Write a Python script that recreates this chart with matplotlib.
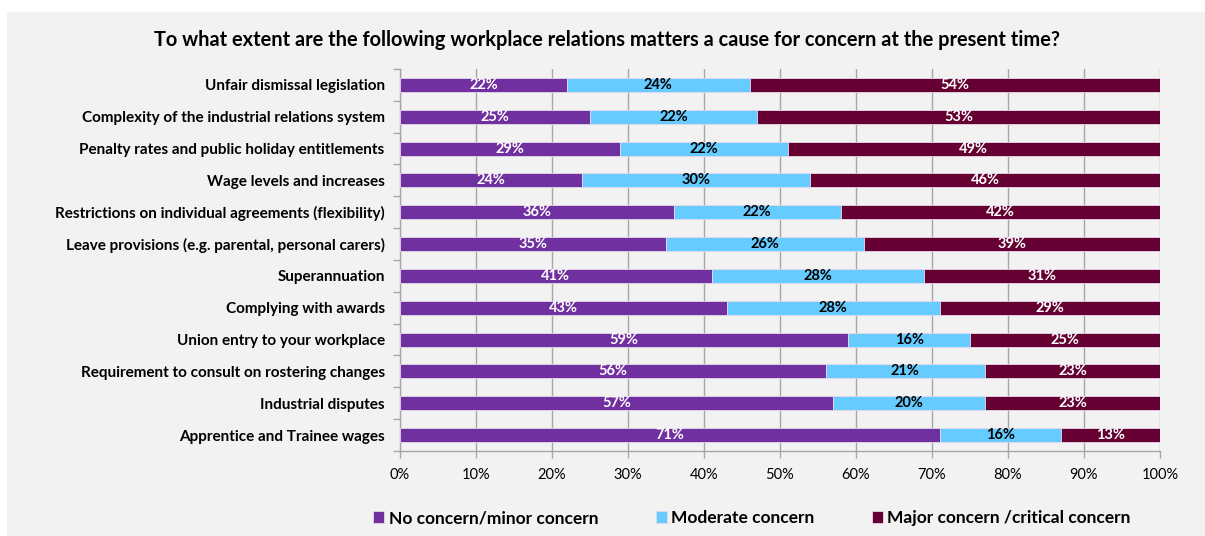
import matplotlib.pyplot as plt
import numpy as np
from matplotlib.patches import Rectangle

# Survey items, top to bottom
items = [
    "Unfair dismissal legislation",
    "Complexity of the industrial relations system",
    "Penalty rates and public holiday entitlements",
    "Wage levels and increases",
    "Restrictions on individual agreements (flexibility)",
    "Leave provisions (e.g. parental, personal carers)",
    "Superannuation",
    "Complying with awards",
    "Union entry to your workplace",
    "Requirement to consult on rostering changes",
    "Industrial disputes",
    "Apprentice and Trainee wages",
]
no_concern = [22, 25, 29, 24, 36, 35, 41, 43, 59, 56, 57, 71]
moderate = [24, 22, 22, 30, 22, 26, 28, 28, 16, 21, 20, 16]
major = [54, 53, 49, 46, 42, 39, 31, 29, 25, 23, 23, 13]

series_names = ["No concern/minor concern", "Moderate concern",
                "Major concern /critical concern"]
colors = ["#7030A0", "#66CCFF", "#660033"]
text_colors = ["white", "black", "white"]

plt.rcParams['font.family'] = ['Lato', 'DejaVu Sans']

fig = plt.figure(figsize=(12.05, 5.36), dpi=100)
fig.patch.set_facecolor("white")
# grey chart panel
fig.patches.append(Rectangle((7 / 1205, 0), 1 - 7 / 1205, 1 - 12 / 536,
                             transform=fig.transFigure, facecolor="#F2F2F2",
                             edgecolor="none", zorder=-10))

ax = fig.add_axes([400 / 1205, 1 - 451 / 536, 760 / 1205, 382 / 536])
ax.set_facecolor("none")

y = np.arange(len(items))
left = np.zeros(len(items))
for vals, name, col, tcol in zip([no_concern, moderate, major], series_names,
                                 colors, text_colors):
    vals = np.array(vals, dtype=float)
    ax.barh(y, vals, left=left, height=0.44, color=col, label=name,
            edgecolor="#E6D9EA", linewidth=0.6, zorder=3)
    for yy, l, v in zip(y, left, vals):
        ax.text(l + v / 2, yy, f"{int(v)}%", ha="center", va="center",
                color=tcol, fontsize=10.5, fontweight="bold", zorder=4)
    left += vals

ax.set_xlim(0, 100)
ax.set_ylim(len(items) - 0.5, -0.5)
ax.set_xticks(np.arange(0, 101, 10))
ax.set_xticklabels([f"{v}%" for v in range(0, 101, 10)], fontsize=10.5)
ax.set_yticks(y)
ax.set_yticklabels(items, fontsize=11, fontweight="bold")
ax.set_yticks(np.arange(-0.5, len(items), 1), minor=True)
ax.tick_params(axis="y", which="major", length=0, pad=11)
ax.tick_params(axis="y", which="minor", length=5, color="#A6A6A6", width=1)
ax.tick_params(axis="x", length=5, color="#A6A6A6", width=1, pad=7)
ax.grid(axis="x", color="#A6A6A6", linewidth=1, zorder=0)
for s in ["top", "right"]:
    ax.spines[s].set_visible(False)
for s in ["left", "bottom"]:
    ax.spines[s].set_color("#A6A6A6")
    ax.spines[s].set_linewidth(1)

fig.text(607 / 1205, 1 - 40 / 536,
         "To what extent are the following workplace relations matters a cause for concern at the present time?",
         ha="center", va="center", fontsize=14.4, fontweight="bold")

fig.legend(loc="center", bbox_to_anchor=(752 / 1205, 1 - 518 / 536),
           ncol=3, frameon=False, handlelength=0.65, handleheight=0.65,
           handletextpad=0.25, columnspacing=3.3,
           prop={"size": 12.5, "weight": "bold"})

fig.savefig("out.png", dpi=100, facecolor=fig.get_facecolor())
